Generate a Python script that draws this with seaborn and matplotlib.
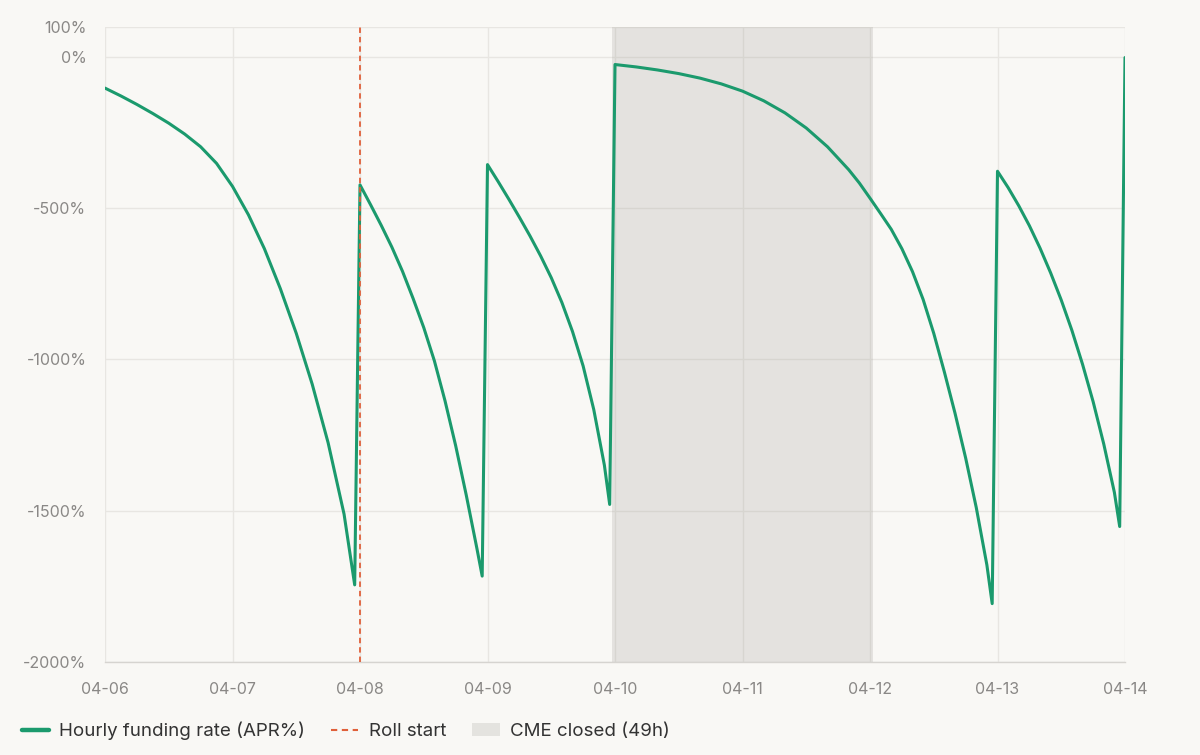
"""
Hourly funding rate (APR%) around the roll, with CME weekend closure shaded
"""

import pandas as pd
import matplotlib
matplotlib.use('Agg')
import matplotlib.pyplot as plt
import matplotlib.dates as mdates
from matplotlib.lines import Line2D
from matplotlib.patches import Patch
import seaborn as sns

# Hours since 04-06 00:00 and the funding rate read at those hours (APR %)
start = pd.Timestamp('2021-04-06')
hours = [0, 3, 6, 9, 12, 15, 18, 21, 24, 27, 30, 33, 36, 39, 42, 45, 47,
         48, 50, 52, 54, 56, 58, 60, 62, 64, 66, 68, 70, 71,
         72, 74, 76, 78, 80, 82, 84, 86, 88, 90, 92, 94, 95,
         96, 100, 104, 108, 112, 116, 120, 124, 128, 132, 136, 140, 142,
         144, 146, 148, 150, 152, 154, 156, 158, 160, 162, 164, 166, 167,
         168, 170, 172, 174, 176, 178, 180, 182, 184, 186, 188, 190, 191,
         192]
rate = [-103, -129, -157, -187, -219, -255, -297, -352, -428, -522, -634, -766, -914, -1082, -1276, -1512, -1746,
        -423, -489, -557, -629, -709, -799, -895, -1005, -1137, -1285, -1449, -1625, -1717,
        -356, -412, -470, -530, -592, -658, -730, -812, -908, -1022, -1166, -1350, -1480,
        -25, -33, -43, -55, -70, -89, -113, -145, -185, -235, -297, -373, -417,
        -467, -518, -570, -634, -710, -802, -914, -1042, -1178, -1326, -1490, -1680, -1808,
        -378, -432, -492, -558, -632, -714, -804, -904, -1016, -1140, -1280, -1440, -1553,
        -2]

roll_start = pd.Timestamp('2021-04-08')
cme_start = pd.Timestamp('2021-04-09 23:30')
cme_end = pd.Timestamp('2021-04-12 00:30')

yticks = [100, 0, -500, -1000, -1500, -2000]
day_ticks = pd.date_range('2021-04-06', '2021-04-14', freq='D')

df = pd.DataFrame({'time': start + pd.to_timedelta(hours, unit='h'), 'rate': rate})

# Colours
bg = '#f9f8f5'
grid_c = '#e8e6e2'
green = '#1b9a6d'
red = '#e0603a'
tick_c = '#8a8886'

sns.set_theme(style='whitegrid')
plt.rcParams['font.family'] = ['Inter', 'DejaVu Sans']

fig = plt.figure(figsize=(12, 7.55), dpi=100, facecolor=bg)
ax = fig.add_axes([0.0875, 0.1236, 0.85, 0.841])
ax.set_facecolor(bg)

# CME closed shading (semi-transparent so gridlines show through darker)
ax.axvspan(cme_start, cme_end, color='#a09e98', alpha=0.236, lw=0, zorder=1)

sns.lineplot(data=df, x='time', y='rate', color=green, linewidth=2.2,
             ax=ax, legend=False, zorder=3)

ax.axvline(roll_start, color=red, linestyle=(0, (3, 2.2)), linewidth=1.3, zorder=4)

# Axes styling
ax.set_xlim(day_ticks[0], day_ticks[-1])
ax.set_ylim(-2000, 100)
ax.set_xticks(day_ticks)
ax.xaxis.set_major_formatter(mdates.DateFormatter('%m-%d'))
ax.set_yticks(yticks, labels=[f'{v}%' for v in yticks])
ax.set_xlabel('')
ax.set_ylabel('')

ax.grid(True, color=grid_c, linewidth=1.0)
ax.set_axisbelow(True)
for side in ['top', 'right', 'left']:
    ax.spines[side].set_visible(False)
ax.spines['bottom'].set_color('#d6d4d0')
ax.spines['bottom'].set_linewidth(1.0)

ax.tick_params(axis='x', length=8, width=1.0, color=grid_c, labelcolor=tick_c,
               labelsize=11.5, pad=6.5)
ax.tick_params(axis='y', length=9.5, width=1.0, color=grid_c, labelcolor=tick_c,
               labelsize=11.5, pad=4)

# Legend below the plot
handles = [
    Line2D([0], [0], color=green, linewidth=3.2),
    Line2D([0], [0], color=red, linestyle=(0, (3, 2.2)), linewidth=1.5),
    Patch(facecolor='#e4e3df', edgecolor='none'),
]
labels = ['Hourly funding rate (APR%)', 'Roll start', 'CME closed (49h)']
leg = fig.legend(handles, labels, loc='center left', bbox_to_anchor=(0.004, 0.032),
                 ncol=3, frameon=False, fontsize=13.5, handlelength=1.45,
                 handletextpad=0.55, columnspacing=1.4)
for t in leg.get_texts():
    t.set_color('#333333')

fig.savefig('out.png', dpi=100, facecolor=bg)
